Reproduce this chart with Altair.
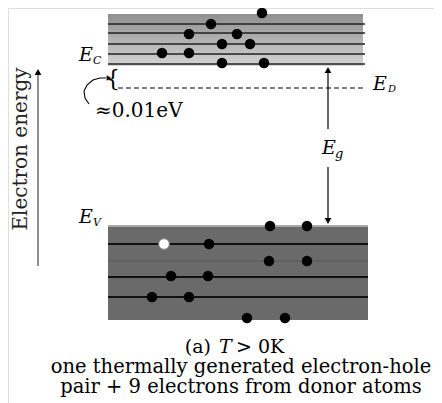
import altair as alt
import pandas as pd

# ---- data (page pixel coordinates) ----
cb_levels = [24, 33, 44, 54, 64]
vb_levels = [244, 277, 297]
cb_e_x = [262, 211, 189, 237, 222, 250, 162, 189, 222, 264]
cb_e_y = [13, 24, 34, 34, 44, 44, 53, 53, 63, 63]
vb_e_x = [270, 307, 209, 269, 307, 171, 208, 152, 189, 247, 285]
vb_e_y = [226, 226, 244, 261, 261, 276, 276, 297, 297, 318, 318]
hole_x = [164]
hole_y = [244]
caption = ["one thermally generated electron-hole", "pair + 9 electrons from donor atoms"]

W, H = 426, 395
X = alt.X("x:Q", scale=alt.Scale(domain=[8, 434], nice=False, zero=False), axis=None)
Y = alt.Y("y:Q", scale=alt.Scale(domain=[8, 403], nice=False, zero=False, reverse=True), axis=None)
X2 = alt.X2("x2:Q")
Y2 = alt.Y2("y2:Q")

def df(**kw):
    return pd.DataFrame(kw)

serif = "DejaVu Serif"

cb_rect = alt.Chart(df(x=[108], x2=[363], y=[14], y2=[66])).mark_rect(
    fill=alt.Gradient(gradient="linear", x1=0, x2=0, y1=0, y2=1,
                      stops=[alt.GradientStop(color="#8f8f8f", offset=0),
                             alt.GradientStop(color="#d4d4d4", offset=1)])
).encode(x=X, x2=X2, y=Y, y2=Y2)

cb_lines = alt.Chart(df(x=[108] * 5, x2=[365] * 5, y=cb_levels)).mark_rule(
    color="#222", strokeWidth=1.6).encode(x=X, x2=X2, y=Y)

vb_rect = alt.Chart(df(x=[108], x2=[368], y=[227], y2=[320])).mark_rect(
    fill="#6a6a6a").encode(x=X, x2=X2, y=Y, y2=Y2)
ev_line = alt.Chart(df(x=[108], x2=[368], y=[226])).mark_rule(
    color="#a8a8a8", strokeWidth=2).encode(x=X, x2=X2, y=Y)
vb_faint = alt.Chart(df(x=[108], x2=[368], y=[261])).mark_rule(
    color="#585858", strokeWidth=1).encode(x=X, x2=X2, y=Y)
vb_lines = alt.Chart(df(x=[108] * 3, x2=[368] * 3, y=vb_levels)).mark_rule(
    color="#111", strokeWidth=1.8).encode(x=X, x2=X2, y=Y)

electrons = alt.Chart(df(x=cb_e_x + vb_e_x, y=cb_e_y + vb_e_y)).mark_circle(
    color="black", opacity=1, size=110).encode(x=X, y=Y)
holes = alt.Chart(df(x=hole_x, y=hole_y)).mark_point(
    shape="circle", filled=True, fill="white", stroke="#999", strokeWidth=1,
    opacity=1, size=110).encode(x=X, y=Y)

ed_line = alt.Chart(df(x=[118], x2=[363], y=[88])).mark_rule(
    color="black", strokeWidth=1.2, strokeDash=[5, 3]).encode(x=X, x2=X2, y=Y)

# arrows
eg_rule = alt.Chart(df(x=[328, 328], y=[70, 167], y2=[129, 221])).mark_rule(
    color="black", strokeWidth=1.2).encode(x=X, y=Y, y2=Y2)
en_rule = alt.Chart(df(x=[38], y=[74], y2=[266])).mark_rule(
    color="#444", strokeWidth=1.2).encode(x=X, y=Y, y2=Y2)
up_heads = alt.Chart(df(x=[328, 38], y=[70, 72])).mark_point(
    shape="triangle-up", filled=True, color="black", opacity=1, size=45).encode(x=X, y=Y)
down_heads = alt.Chart(df(x=[328], y=[221])).mark_point(
    shape="triangle-down", filled=True, color="black", opacity=1, size=45).encode(x=X, y=Y)

curve = alt.Chart(df(x=[89, 85, 84, 87, 93, 100, 106], y=[104, 98, 91, 85, 80, 78, 78],
                     o=list(range(7)))).mark_line(color="black", strokeWidth=1.1).encode(
    x=X, y=Y, order="o:Q")
curve_head = alt.Chart(df(x=[109], y=[78])).mark_point(
    shape="triangle-right", filled=True, color="black", opacity=1, size=30).encode(x=X, y=Y)

def txt(x, y, s, size, style="normal", align="center", angle=0, color="black", font=serif, baseline="middle"):
    return alt.Chart(df(x=[x], y=[y], t=[s])).mark_text(
        font=font, fontSize=size, fontStyle=style, align=align, baseline=baseline,
        angle=angle, color=color).encode(x=X, y=Y, text="t:N")

texts = [
    txt(86, 55, "E", 19, "italic"),
    txt(93, 61, "C", 11, "italic", align="left"),
    txt(86, 217, "E", 19, "italic"),
    txt(93, 223, "V", 11, "italic", align="left"),
    txt(380, 84, "E", 19, "italic"),
    txt(388, 89, "D", 10, "italic", align="left"),
    txt(329, 148, "E", 19, "italic"),
    txt(335, 154, "g", 13, "italic", align="left"),
    txt(113, 79, "{", 22),
    txt(95, 111, "≈0.01eV", 20, align="left"),
    txt(21, 149, "Electron energy", 20, angle=270, color="#222"),
    txt(211, 353, "(a)", 19, align="right", baseline="alphabetic"),
    txt(219, 353, "T", 19, "italic", align="left", baseline="alphabetic"),
    txt(236, 353, "> 0K", 19, align="left", baseline="alphabetic"),
    txt(241, 373, caption[0], 19.5, baseline="alphabetic"),
    txt(241, 393, caption[1], 19.5, baseline="alphabetic"),
]

chart = alt.layer(cb_rect, cb_lines, vb_rect, ev_line, vb_faint, vb_lines, ed_line,
                  eg_rule, en_rule, up_heads, down_heads, curve, curve_head,
                  electrons, holes, *texts).properties(
    width=W, height=H, padding=0, autosize="none"
).configure_view(stroke=None).configure(background="white")

chart.save("out.html", embed_options={"renderer": "svg", "actions": False})
